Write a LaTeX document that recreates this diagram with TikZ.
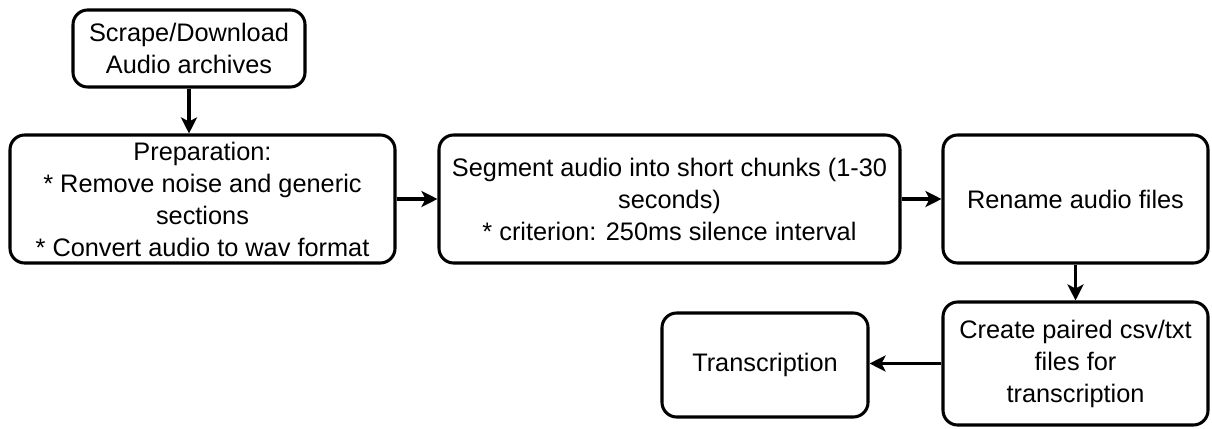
\documentclass[tikz,border=0pt]{standalone}
\usepackage{fontspec}
\setmainfont{Liberation Sans}
\usetikzlibrary{arrows.meta}
\begin{document}
\begin{tikzpicture}[x=0.75pt,y=-0.75pt,
  box/.style={draw=black, line width=2.3pt, rounded corners=11pt, align=center,
    inner sep=0pt, font=\fontsize{19}{24}\selectfont},
  flow/.style={draw=black, line width=2.4pt, -{Stealth[length=12pt,width=12pt,inset=3pt]}}]
\useasboundingbox (0,0) rectangle (1212,428);
\node[box, minimum width=232*0.75pt, minimum height=77*0.75pt] (scrape) at (189,48.5)
  {Scrape/Download\\Audio archives};
\node[box, minimum width=385*0.75pt, minimum height=128*0.75pt] (prep) at (202.5,199)
  {Preparation:\\* Remove noise and generic\\sections\\* Convert audio to wav format};
\node[box, minimum width=461*0.75pt, minimum height=128*0.75pt] (seg) at (669.5,199)
  {Segment audio into short chunks (1-30\\seconds)\\* criterion: 250ms silence interval};
\node[box, minimum width=265*0.75pt, minimum height=128*0.75pt] (ren) at (1075.5,199)
  {Rename audio files};
\node[box, minimum width=265*0.75pt, minimum height=123*0.75pt] (csv) at (1075.5,363.5)
  {Create paired csv/txt\\files for\\transcription};
\node[box, minimum width=206*0.75pt, minimum height=104*0.75pt] (tr) at (765,365)
  {Transcription};
\draw[flow] (scrape.south) -- (scrape.south |- prep.north);
\draw[flow] (prep.east) -- (seg.west);
\draw[flow] (seg.east) -- (ren.west);
\draw[flow] (ren.south) -- (csv.north);
\draw[flow] (csv.west) -- (csv.west -| tr.east);
\end{tikzpicture}
\end{document}
